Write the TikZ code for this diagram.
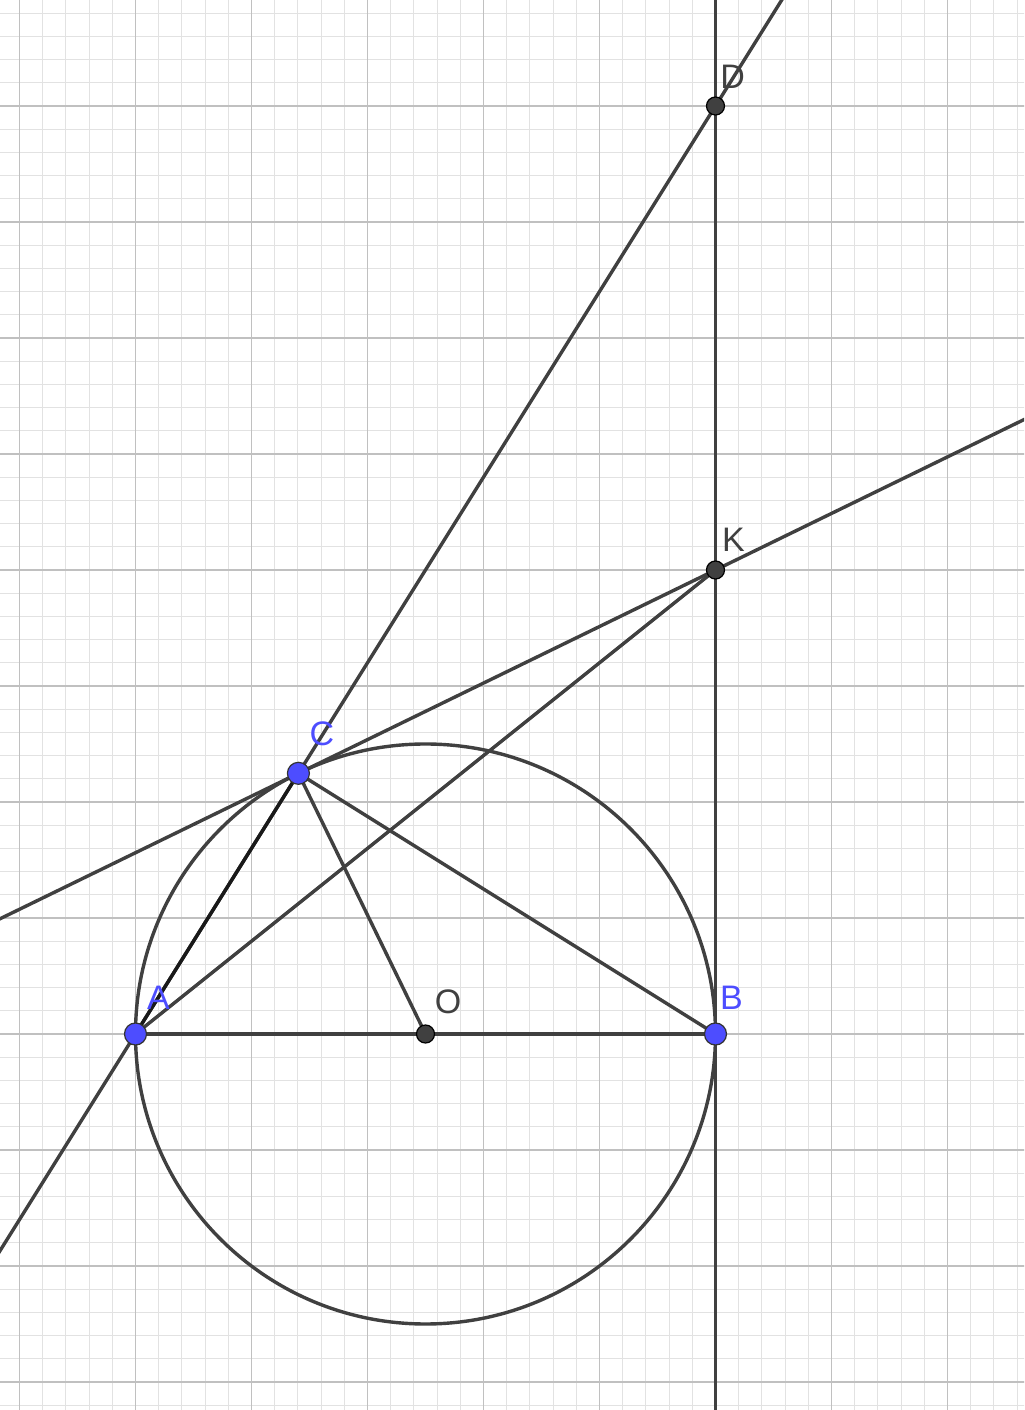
\documentclass[tikz,border=0pt]{standalone}
\usepackage{fontspec}
\newfontfamily\labfont{Liberation Sans}
\usetikzlibrary{calc}
\definecolor{ptblue}{RGB}{77,77,255}
\definecolor{ln}{RGB}{64,64,64}
\definecolor{majg}{RGB}{192,192,192}
\definecolor{ming}{RGB}{226,226,226}
\tikzset{
  minorgrid/.style={ming, line width=0.55pt},
  majorgrid/.style={majg, line width=0.85pt},
  geo/.style={ln, line width=1.7pt},
  bluept/.style={circle, fill=ptblue, draw=black!80, line width=0.6pt, minimum size=11pt, inner sep=0pt},
  darkpt/.style={circle, fill=ln, draw=black, line width=0.6pt, minimum size=9pt, inner sep=0pt},
  bluelab/.style={text=ptblue, font=\labfont\fontsize{17}{20}\selectfont, inner sep=0pt},
  darklab/.style={text=ln, font=\labfont\fontsize{17}{20}\selectfont, inner sep=0pt}
}
\begin{document}
\begin{tikzpicture}[x=58pt,y=58pt]
\useasboundingbox (-3.6681,-3.2414) rectangle (5.1595,8.9138);
\clip (-3.6681,-3.2414) rectangle (5.1595,8.9138);
\fill[white] (-3.6681,-3.2414) rectangle (5.1595,8.9138);
% grid
\foreach \i [evaluate=\i as \xx using -3.5+0.2*\i] in {-1,...,43}
  \draw[minorgrid] (\xx,-3.4) -- (\xx,9);
\foreach \j [evaluate=\j as \yy using 0.2*\j] in {-17,...,45}
  \draw[minorgrid] (-3.8,\yy) -- (5.3,\yy);
\foreach \xx in {-3.5,-2.5,...,4.5}
  \draw[majorgrid] (\xx,-3.4) -- (\xx,9);
\foreach \yy in {-3,...,8}
  \draw[majorgrid] (-3.8,\yy) -- (5.3,\yy);
% points
\coordinate (O) at (0,0);
\coordinate (A) at (-2.5,0);
\coordinate (B) at (2.5,0);
\coordinate (C) at (-1.0955,2.2472);
\coordinate (K) at (2.5,4);
\coordinate (D) at (2.5,8);
\coordinate (Btop) at (2.5,9.2);
\coordinate (Bbot) at (2.5,-3.5);
\coordinate (ADlo) at ($(A)!-0.25!(D)$);
\coordinate (ADhi) at ($(A)!1.2!(D)$);
\coordinate (CKlo) at ($(C)!-0.8!(K)$);
\coordinate (CKhi) at ($(C)!1.8!(K)$);
% geometry
\draw[geo] (O) circle (2.5);
\draw[geo] (Bbot) -- (Btop);
\draw[geo] (ADlo) -- (ADhi);
\draw[geo] (CKlo) -- (CKhi);
\draw[geo] (A) -- (K);
\draw[geo] (A) -- (B);
\draw[geo] (C) -- (O);
\draw[geo] (C) -- (B);
\draw[geo, black!90] (C) -- (A);
% point markers
\node[darkpt] (Op) at (O) {};
\node[darkpt] (Kp) at (K) {};
\node[darkpt] (Dp) at (D) {};
\node[bluept] (Ap) at (A) {};
\node[bluept] (Bp) at (B) {};
\node[bluept] (Cp) at (C) {};
% labels
\node[bluelab] (Al) at (-2.302,0.310) {A};
\node[bluelab] (Bl) at (2.638,0.310) {B};
\node[bluelab] (Cl) at (-0.892,2.586) {C};
\node[darklab] (Ol) at (0.194,0.276) {O};
\node[darklab] (Kl) at (2.655,4.261) {K};
\node[darklab] (Dl) at (2.647,8.250) {D};
\end{tikzpicture}
\end{document}
